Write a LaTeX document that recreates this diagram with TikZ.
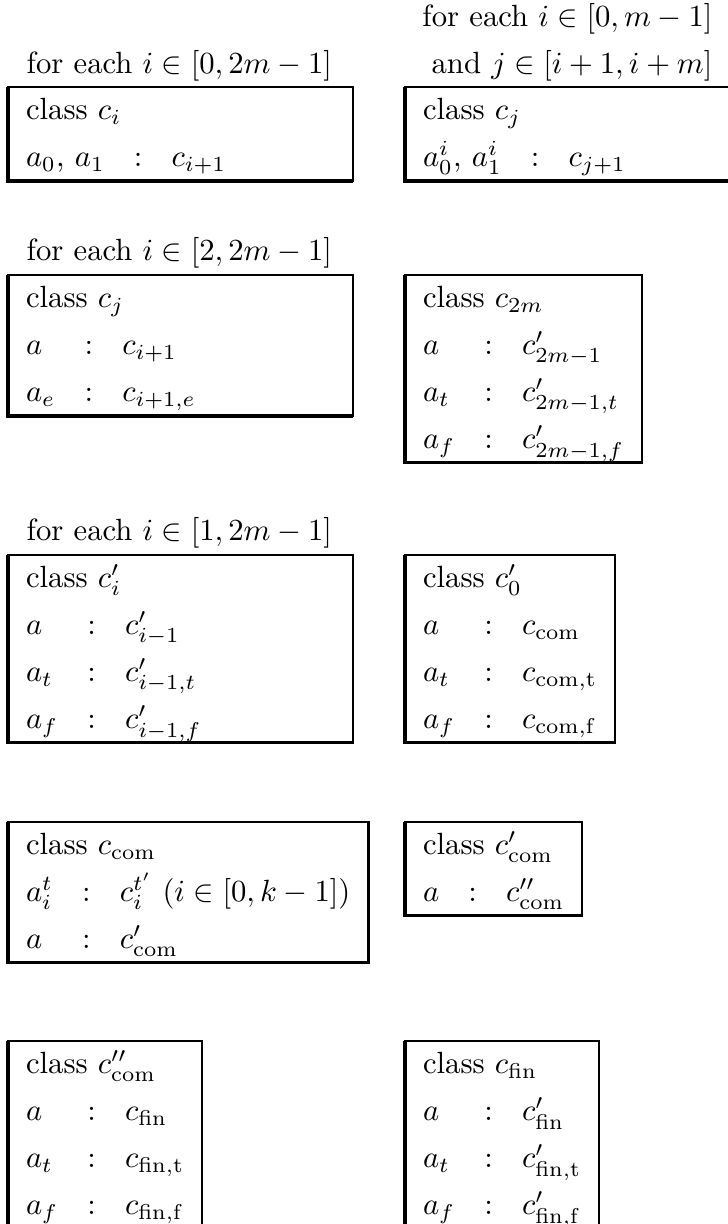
\documentclass[tikz,border=0pt]{standalone}
\usepackage{amsmath}
\usetikzlibrary{positioning}
\newdimen\px \px=0.3257pt
\renewcommand{\arraystretch}{1.275}
\newcommand{\cls}[1]{\multicolumn{3}{@{}l@{}}{class $#1$}}
\newenvironment{members}{\begin{tabular}{@{}l@{\hspace{9.5pt}}c@{\hspace{9.5pt}}l@{}}}{\end{tabular}}

\begin{document}
\begin{tikzpicture}[x=0.3257pt, y=-0.3257pt]
\tikzset{
  box/.style={draw, line width=0.75pt, inner xsep=18\px, inner ysep=0pt, outer sep=0pt, anchor=north west},
  wide/.style={text width=309\px, align=left},
  hdr/.style={inner sep=0pt, anchor=base west},
  rim/.style={line width=1.05pt}
}
\useasboundingbox (0,0) rectangle (728,1224);

% Top row
\node[box, wide] (ci) at (8,87) {\begin{members}
  \cls{c_i} \\
  $a_0$, $a_1$ & : & $c_{i+1}$
\end{members}};
\node[box, text width=329\px, align=left] (cj) at (405,87) {\begin{members}
  \cls{c_j} \\
  $a^i_0$, $a^i_1$ & : & $c_{j+1}$
\end{members}};

% Second row
\node[box, wide, below=94\px of ci.south west, anchor=north west] (cbody) {\begin{members}
  \cls{c_j} \\
  $a$ & : & $c_{i+1}$ \\
  $a_e$ & : & $c_{i+1,e}$
\end{members}};
\node[box, below=94\px of cj.south west, anchor=north west] (ctwom) {\begin{members}
  \cls{c_{2m}} \\
  $a$ & : & $c'_{2m-1}$ \\
  $a_t$ & : & $c'_{2m-1,t}$ \\
  $a_f$ & : & $c'_{2m-1,f}$
\end{members}};

% Third row
\node[box, wide, below=92\px of ctwom.south -| cbody.west, anchor=north west] (cprime) {\begin{members}
  \cls{c'_i} \\
  $a$ & : & $c'_{i-1}$ \\
  $a_t$ & : & $c'_{i-1,t}$ \\
  $a_f$ & : & $c'_{i-1,f}$
\end{members}};
\node[box, below=92\px of ctwom.south west, anchor=north west] (czero) {\begin{members}
  \cls{c'_0} \\
  $a$ & : & $c_{\mathrm{com}}$ \\
  $a_t$ & : & $c_{\mathrm{com,t}}$ \\
  $a_f$ & : & $c_{\mathrm{com,f}}$
\end{members}};

% Fourth row
\node[box, below=79\px of cprime.south west, anchor=north west] (ccom) {\begin{members}
  \cls{c_{\mathrm{com}}} \\
  $a^t_i$ & : & $c^{t'}_i$ $(i \in [0, k-1])$ \\
  $a$ & : & $c'_{\mathrm{com}}$
\end{members}};
\node[box, below=79\px of czero.south west, anchor=north west] (ccomp) {\begin{members}
  \cls{c'_{\mathrm{com}}} \\
  $a$ & : & $c''_{\mathrm{com}}$
\end{members}};

% Last row
\node[box, below=78\px of ccom.south west, anchor=north west] (ccompp) {\begin{members}
  \cls{c''_{\mathrm{com}}} \\
  $a$ & : & $c_{\mathrm{fin}}$ \\
  $a_t$ & : & $c_{\mathrm{fin,t}}$ \\
  $a_f$ & : & $c_{\mathrm{fin,f}}$
\end{members}};
\node[box, below=78\px of ccom.south -| ccomp.west, anchor=north west] (cfin) {\begin{members}
  \cls{c_{\mathrm{fin}}} \\
  $a$ & : & $c'_{\mathrm{fin}}$ \\
  $a_t$ & : & $c'_{\mathrm{fin,t}}$ \\
  $a_f$ & : & $c'_{\mathrm{fin,f}}$
\end{members}};

% Ranges over the boxes
\node[hdr, above right=14\px and 18\px of ci.north west, anchor=base west] (rci) {for each $i \in [0, 2m-1]$};
\node[hdr, above right=14\px and 26\px of cj.north west, anchor=base west] (rcj2) {and $j \in [i+1, i+m]$};
\node[hdr, above=47\px of rcj2.base east, anchor=base east] (rcj1) {for each $i \in [0, m-1]$};
\node[hdr, above right=14\px and 18\px of cbody.north west, anchor=base west] (rcbody) {for each $i \in [2, 2m-1]$};
\node[hdr, above right=14\px and 18\px of cprime.north west, anchor=base west] (rcprime) {for each $i \in [1, 2m-1]$};

% Heavier left and bottom edges
\foreach \b in {ci,cj,cbody,ctwom,cprime,czero,ccom,ccomp,ccompp,cfin}
  \draw[rim] (\b.north west) -- (\b.south west) -- (\b.south east);
\end{tikzpicture}
\end{document}
